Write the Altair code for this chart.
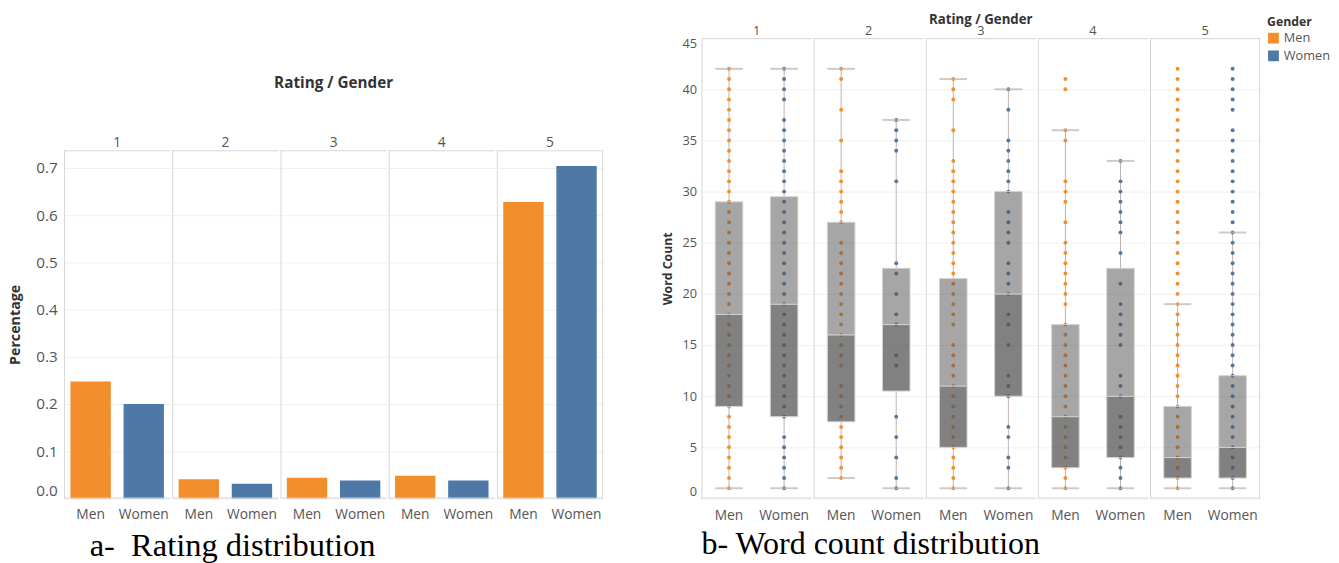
import altair as alt
import pandas as pd

FONT = "Open Sans"
ORANGE = "#f28e2b"
BLUE = "#4e79a7"
WHISK = "#bfb0b0"
LINE = "#d6d6d6"

# ---------------- panel a: rating distribution ----------------
ratings = [1, 2, 3, 4, 5]
genders = ["Men", "Women"]
pct_men = [0.248, 0.041, 0.044, 0.048, 0.628]
pct_women = [0.200, 0.031, 0.038, 0.038, 0.704]

# ---------------- panel b: word count distribution ----------------
box_rating = [1, 1, 2, 2, 3, 3, 4, 4, 5, 5]
box_gender = ["Men", "Women", "Men", "Women", "Men", "Women", "Men", "Women", "Men", "Women"]
whisk_low = [1, 1, 2, 1, 1, 1, 1, 1, 1, 1]
q1 = [9, 8, 7.5, 10.5, 5, 10, 3, 4, 2, 2]
median = [18, 19, 16, 17, 11, 20, 8, 10, 4, 5]
q3 = [29, 29.5, 27, 22.5, 21.5, 30, 17, 22.5, 9, 12]
whisk_high = [42, 42, 42, 37, 41, 40, 36, 33, 19, 26]

# distinct word-count values drawn as dots
wc_1_men = [1, 2, 3, 4, 5, 6, 7, 8, 9, 10, 11, 12, 13, 14, 15, 16, 17, 18, 19, 20, 21,
            22, 23, 24, 25, 26, 27, 28, 29, 30, 31, 32, 33, 34, 35, 36, 37, 38, 39, 40, 41, 42]
wc_1_women = [1, 2, 3, 4, 5, 6, 8, 9, 10, 11, 12, 13, 14, 15, 16, 17, 18, 19, 20, 21,
              22, 23, 24, 25, 26, 27, 28, 29, 30, 31, 32, 33, 34, 35, 36, 37, 39, 40, 41, 42]
wc_2_men = [2, 3, 4, 5, 6, 7, 8, 9, 10, 11, 13, 14, 15, 16, 17, 18, 19, 20, 21, 22, 23,
            24, 25, 27, 28, 29, 30, 31, 32, 35, 38, 41, 42]
wc_2_women = [1, 2, 4, 6, 8, 13, 14, 17, 18, 20, 22, 23, 31, 34, 35, 36, 37]
wc_3_men = [1, 2, 3, 4, 5, 6, 7, 8, 9, 10, 11, 12, 13, 14, 15, 17, 18, 19, 20, 21, 22,
            23, 24, 25, 26, 27, 28, 29, 30, 31, 32, 33, 36, 39, 40, 41]
wc_3_women = [1, 3, 4, 6, 7, 10, 11, 12, 15, 17, 18, 20, 21, 22, 23, 25, 26, 27, 28, 30,
              31, 32, 33, 34, 35, 38, 40]
wc_4_men = [1, 2, 3, 4, 5, 6, 7, 8, 9, 10, 11, 12, 13, 14, 15, 16, 17, 19, 20, 21, 22,
            23, 24, 25, 27, 29, 30, 31, 35, 36, 40, 41]
wc_4_women = [1, 2, 3, 4, 5, 6, 7, 8, 10, 11, 12, 15, 16, 17, 18, 19, 21, 24, 26, 27,
              28, 29, 30, 31, 33]
wc_5_men = [1, 2, 3, 4, 5, 6, 7, 8, 9, 10, 11, 12, 13, 14, 15, 16, 17, 18, 19, 20, 21,
            22, 23, 24, 25, 26, 27, 28, 29, 30, 31, 32, 33, 34, 35, 36, 37, 38, 39, 40, 41, 42]
wc_5_women = [1, 2, 3, 4, 5, 6, 7, 8, 9, 10, 11, 12, 13, 14, 15, 16, 17, 18, 19, 20, 21,
              22, 23, 24, 25, 26, 27, 28, 29, 30, 31, 32, 33, 34, 35, 36, 38, 39, 40, 41, 42]

y_ticks_a = [0.0, 0.1, 0.2, 0.3, 0.4, 0.5, 0.6, 0.7]
y_ticks_b = [0, 5, 10, 15, 20, 25, 30, 35, 40, 45]

# ---------------- tables ----------------
bar_rows = []
for i, r in enumerate(ratings):
    bar_rows.append({"Rating": r, "Gender": "Men", "Percentage": pct_men[i]})
    bar_rows.append({"Rating": r, "Gender": "Women", "Percentage": pct_women[i]})
bar_df = pd.DataFrame(bar_rows)

dot_lists = {
    (1, "Men"): wc_1_men, (1, "Women"): wc_1_women,
    (2, "Men"): wc_2_men, (2, "Women"): wc_2_women,
    (3, "Men"): wc_3_men, (3, "Women"): wc_3_women,
    (4, "Men"): wc_4_men, (4, "Women"): wc_4_women,
    (5, "Men"): wc_5_men, (5, "Women"): wc_5_women,
}
rows = []
for (r, g), vals in dot_lists.items():
    for v in vals:
        rows.append({"kind": "pt", "Rating": r, "Gender": g, "WordCount": v})
for i in range(len(box_rating)):
    rows.append({"kind": "box", "Rating": box_rating[i], "Gender": box_gender[i],
                 "lo": whisk_low[i], "q1": q1[i], "med": median[i], "q3": q3[i],
                 "hi": whisk_high[i]})
wc_df = pd.DataFrame(rows)

color = alt.Color("Gender:N", scale=alt.Scale(domain=genders, range=[ORANGE, BLUE]),
                  legend=alt.Legend(title="Gender", orient="none", legendX=1223,
                                    legendY=-22))


def header(title_size, title_pad, label_size, label_pad):
    return alt.Header(title="Rating / Gender", titleFont=FONT, titleFontSize=title_size,
                      titleFontWeight="bold", titleColor="#333", titlePadding=title_pad,
                      labelFont=FONT, labelFontSize=label_size, labelColor="#555",
                      labelPadding=label_pad)


def cell_lines(one_row_filter, last_filter, w, h):
    """Pane separators drawn inside every facet cell (one row per cell)."""
    b = alt.Chart()
    left_l = b.mark_rule(color=LINE, strokeWidth=1).encode(
        x=alt.value(0.5), y=alt.value(0), y2=alt.value(h)).transform_filter(one_row_filter)
    top_l = b.mark_rule(color=LINE, strokeWidth=1).encode(
        x=alt.value(0), x2=alt.value(w), y=alt.value(0.5)).transform_filter(one_row_filter)
    bot_l = b.mark_rule(color=LINE, strokeWidth=1).encode(
        x=alt.value(0), x2=alt.value(w), y=alt.value(h - 0.5)).transform_filter(one_row_filter)
    right_l = b.mark_rule(color=LINE, strokeWidth=1).encode(
        x=alt.value(w - 0.5), y=alt.value(0), y2=alt.value(h)).transform_filter(last_filter)
    return [left_l, top_l, bot_l, right_l]


# ---------------- panel a ----------------
WA, HA = 108, 354
bars = alt.Chart().mark_bar().encode(
    x=alt.X("Gender:N", sort=genders, title=None,
            scale=alt.Scale(paddingInner=0.24, paddingOuter=0.12),
            axis=alt.Axis(labelAngle=0, grid=False, labelPadding=8, labelFontSize=14)),
    y=alt.Y("Percentage:Q", scale=alt.Scale(domain=[0, 0.7375], nice=False),
            axis=alt.Axis(values=y_ticks_a, format=".1f", title="Percentage",
                          labelFlush=True, labelPadding=6, titlePadding=13,
                          labelFontSize=15.5, titleFontSize=14.5)),
    color=color,
)
left_layer = alt.layer(
    bars,
    *cell_lines("datum.Gender == 'Men'", "datum.Gender == 'Men' && datum.Rating == 5",
                WA, HA),
    data=bar_df,
).properties(width=WA, height=HA)

left_facet = left_layer.facet(
    column=alt.Column("Rating:O", header=header(15.5, 36, 14, -1)), spacing=0
).properties(title=alt.TitleParams("a-\u00a0\u00a0Rating distribution",
                                   orient="bottom", anchor="start", frame="group",
                                   dx=26, offset=9, font="Liberation Serif",
                                   fontSize=33, fontWeight="normal", color="#000"))

spacer = alt.Chart(pd.DataFrame({"s": [0]})).mark_point(opacity=0).encode(
    x=alt.value(0), y=alt.value(0)
).properties(width=20, height=38, view=alt.ViewBackground(strokeOpacity=0))

left = alt.vconcat(spacer, left_facet, spacing=0)

# ---------------- panel b ----------------
WB, HB = 112, 468
xb = alt.X("Gender:N", sort=genders, title=None,
           scale=alt.Scale(paddingInner=0.5, paddingOuter=0.25),
           axis=alt.Axis(labelAngle=0, grid=False, labelPadding=9, labelFontSize=14))
yscale = alt.Scale(domain=[0, 45], nice=False)
yaxis = alt.Axis(values=y_ticks_b, title="Word Count", labelFlush=True,
                 labelPadding=4, titlePadding=8, labelFontSize=13, titleFontSize=12.5)

base = alt.Chart()
w_lo = base.mark_rule(color=WHISK, strokeWidth=1).encode(
    x=xb, y=alt.Y("lo:Q", scale=yscale, axis=yaxis), y2="q1:Q"
).transform_filter("datum.kind == 'box'")
w_hi = base.mark_rule(color=WHISK, strokeWidth=1).encode(
    x=xb, y=alt.Y("q3:Q", scale=yscale, axis=yaxis), y2="hi:Q"
).transform_filter("datum.kind == 'box'")
pts = base.mark_circle(size=16, opacity=1).encode(
    x=xb, y=alt.Y("WordCount:Q", scale=yscale, axis=yaxis), color=color
).transform_filter("datum.kind == 'pt'")
box_low = base.mark_bar(fill="#555555", fillOpacity=0.74, stroke="#d2d2d2",
                        strokeWidth=1).encode(
    x=xb, y=alt.Y("q1:Q", scale=yscale, axis=yaxis), y2="med:Q"
).transform_filter("datum.kind == 'box'")
box_up = base.mark_bar(fill="#555555", fillOpacity=0.52, stroke="#d2d2d2",
                       strokeWidth=1).encode(
    x=xb, y=alt.Y("med:Q", scale=yscale, axis=yaxis), y2="q3:Q"
).transform_filter("datum.kind == 'box'")
cap_lo = base.mark_tick(color=WHISK, size=28, thickness=2).encode(
    x=xb, y=alt.Y("lo:Q", scale=yscale, axis=yaxis)
).transform_filter("datum.kind == 'box'")
cap_hi = base.mark_tick(color=WHISK, size=28, thickness=2).encode(
    x=xb, y=alt.Y("hi:Q", scale=yscale, axis=yaxis)
).transform_filter("datum.kind == 'box'")

right_layer = alt.layer(
    w_lo, w_hi, pts, box_low, box_up, cap_lo, cap_hi,
    *cell_lines("datum.kind == 'box' && datum.Gender == 'Men'",
                "datum.kind == 'box' && datum.Gender == 'Men' && datum.Rating == 5",
                WB, HB),
    data=wc_df,
).properties(width=WB, height=HB)
right_facet = right_layer.facet(
    column=alt.Column("Rating:O", header=header(13.5, -11, 13, -1)), spacing=0
).properties(title=alt.TitleParams("b- Word count distribution", orient="bottom",
                                   anchor="start", frame="group", dx=0, offset=6,
                                   font="Liberation Serif", fontSize=32.5,
                                   fontWeight="normal", color="#000"))

chart = alt.hconcat(left, right_facet, spacing=58).properties(
    padding={"left": 0, "top": 0, "right": 0, "bottom": 0}
).configure_view(
    strokeOpacity=0
).configure_axis(
    domain=False, ticks=False, gridColor="#f0f0f0",
    labelFont=FONT, labelColor="#555",
    titleFont=FONT, titleFontWeight="bold", titleColor="#333"
).configure_legend(
    titleFont=FONT, titleFontSize=12.5, titleFontWeight="bold", titleColor="#333",
    labelFont=FONT, labelFontSize=13, labelColor="#555",
    symbolType="square", symbolSize=120, symbolStrokeWidth=0,
    rowPadding=4, titlePadding=3, padding=0
)

chart.save("out.html", embed_options={"renderer": "svg", "actions": False})
